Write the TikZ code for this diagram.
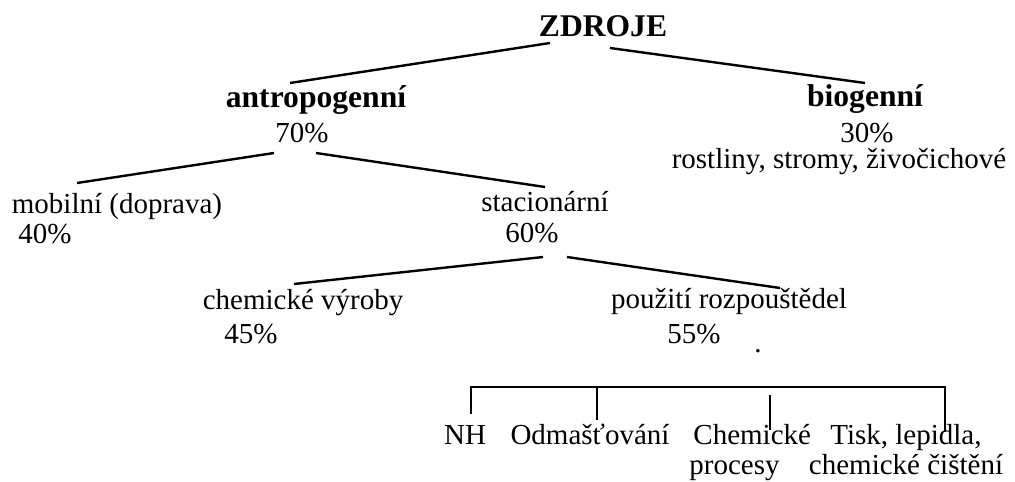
\documentclass[tikz,border=0pt]{standalone}
\usepackage{fontspec}
\setmainfont{Liberation Serif}
\usetikzlibrary{calc}

\begin{document}
\begin{tikzpicture}[x=0.5pt, y=-0.5pt,
		txt/.style={inner sep=0, anchor=base, font=\fontsize{14.5}{17}\selectfont},
		head/.style={txt, font=\fontsize{15.8}{19}\selectfont\bfseries},
		branch/.style={line width=1.2pt},
		bracket/.style={line width=1pt}]
			\useasboundingbox (0,0) rectangle (1015,481);

			\node (zdroje)[head] at (603,37) {ZDROJE};
			\node (antro)[head] at (316,107) {antropogenní};
			\node (p70)[txt] at (302,142) {70\%};
			\node (bio)[head] at (865,106) {biogenní};
			\node (p30)[txt] at (867,142) {30\%};
			\node (rost)[txt] at (839,168) {rostliny, stromy, živočichové};

			\node (mob)[txt] at (117,213) {mobilní (doprava)};
			\node (p40)[txt] at (45,243) {40\%};
			\node (stac)[txt] at (545,211) {stacionární};
			\node (p60)[txt] at (532,242) {60\%};

			\node (chv)[txt] at (303,309) {chemické výroby};
			\node (p45)[txt] at (251,343) {45\%};
			\node (pouz)[txt] at (729,308) {použití rozpouštědel};
			\node (p55)[txt] at (694,343) {55\%};
			\node (dot)[txt] at (758,352) {.};

			\node (nh)[txt] at (465,444) {NH};
			\node (odm)[txt] at (590,444) {Odmašťování};
			\node (chem)[txt, anchor=base west] at (693,444) {Chemické};
			\node (proc)[txt, anchor=base west] at (689,474) {procesy};
			\node (tisk)[txt] at (906,444) {Tisk, lepidla,};
			\node (cist)[txt] at (906,474) {chemické čištění};

			\draw [branch] ($(zdroje.base)+(-53,6)$) -- ($(antro.base)+(-26,-24)$);
			\draw [branch] ($(zdroje.base)+(7,11)$) -- ($(bio.base)+(0,-23)$);

			\draw [branch] ($(p70.base)+(-28,11)$) -- ($(mob.base)+(-40,-30)$);
			\draw [branch] ($(p70.base)+(14,11)$) -- ($(stac.base)+(0,-24)$);

			\draw [branch] ($(p60.base)+(11,15)$) -- ($(chv.base)+(-9,-25)$);
			\draw [branch] ($(p60.base)+(35,15)$) -- ($(pouz.base)+(51,-20)$);

			\draw [bracket] ($(nh.base)+(6,-30)$) |- ($(tisk.base)+(39,-57)$) -- ($(tisk.base)+(39,-12)$);
			\draw [bracket] ($(odm.base)+(7,-24)$) -- ($(odm.base)+(7,-57)$);
			\draw [bracket] ($(chem.base west)+(77,-14)$) -- ($(chem.base west)+(77,-49)$);
		\end{tikzpicture}
\end{document}
